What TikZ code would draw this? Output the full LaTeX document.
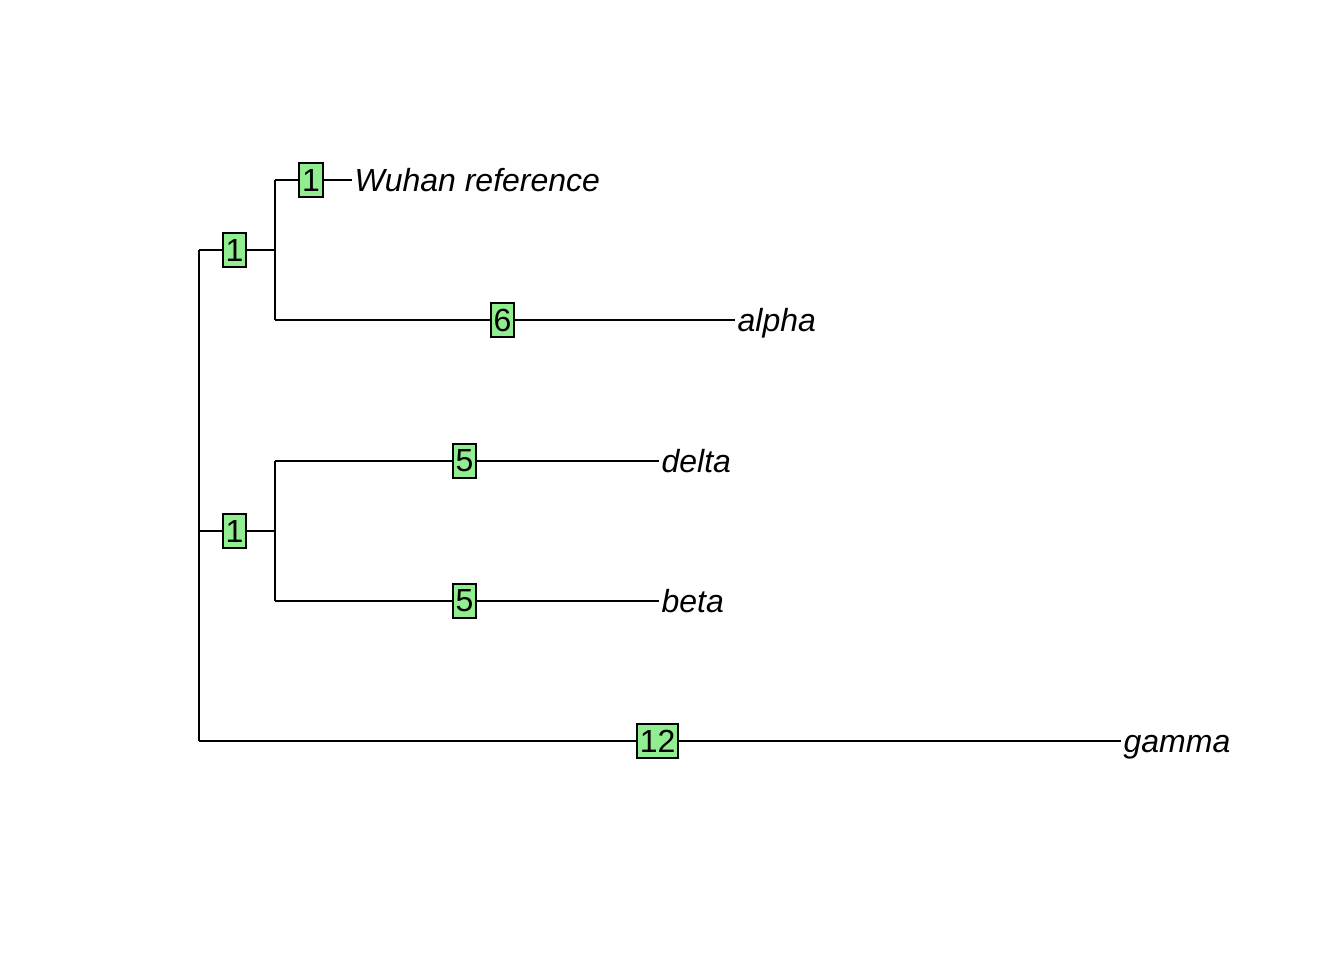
\documentclass[tikz,border=0pt]{standalone}
\usepackage{fontspec}
\setmainfont{Liberation Sans}
\usetikzlibrary{calc, positioning}

\begin{document}
\begin{tikzpicture}[x=0.375bp, y=-0.375bp, line width=0.75bp,
    edgebox/.style={draw=black, fill=lightgreen, xshift=-0.9bp,
      line width=0.75bp, inner xsep=1.1bp, inner ysep=0pt,
      minimum height=12.4bp, font=\fontsize{12bp}{14bp}\selectfont},
    tiplabel/.style={anchor=mid west, inner xsep=0.6bp, yshift=-1.5bp,
      font=\fontsize{12bp}{14bp}\selectfont\itshape}]
    \definecolor{lightgreen}{HTML}{90EE90}
    \useasboundingbox (0,0) rectangle (1344,960);

    % Root and internal nodes
    \coordinate (rootA) at (199,250);
    \coordinate (rootB) at (199,531);
    \coordinate (rootG) at (199,741);
    \coordinate (nodeA) at (275,250);
    \coordinate (nodeB) at (275,531);

    % Tips (x = branch length, y = tip order)
    \coordinate (tipW) at (352,180);
    \coordinate (tipAl) at (735,320);
    \coordinate (tipD) at (659,461);
    \coordinate (tipBe) at (659,601);
    \coordinate (tipG) at (1121,741);

    % Vertical bars
    \draw (rootA) -- (rootG);
    \draw (nodeA |- tipW) -- (nodeA |- tipAl);
    \draw (nodeB |- tipD) -- (nodeB |- tipBe);

    % Horizontal edges with mutation counts
    \draw (rootA) -- node[edgebox] (eA) {1} (nodeA);
    \draw (rootB) -- node[edgebox] (eB) {1} (nodeB);
    \draw (rootG) -- node[edgebox] (eG) {12} (tipG);
    \draw (nodeA |- tipW) -- node[edgebox] (eW) {1} (tipW);
    \draw (nodeA |- tipAl) -- node[edgebox] (eAl) {6} (tipAl);
    \draw (nodeB |- tipD) -- node[edgebox] (eD) {5} (tipD);
    \draw (nodeB |- tipBe) -- node[edgebox] (eBe) {5} (tipBe);

    % Tip labels
    \node[tiplabel] (labW) at (tipW) {Wuhan reference};
    \node[tiplabel] (labAl) at (tipAl) {alpha};
    \node[tiplabel] (labD) at (tipD) {delta};
    \node[tiplabel] (labBe) at (tipBe) {beta};
    \node[tiplabel] (labG) at (tipG) {gamma};
\end{tikzpicture}
\end{document}
